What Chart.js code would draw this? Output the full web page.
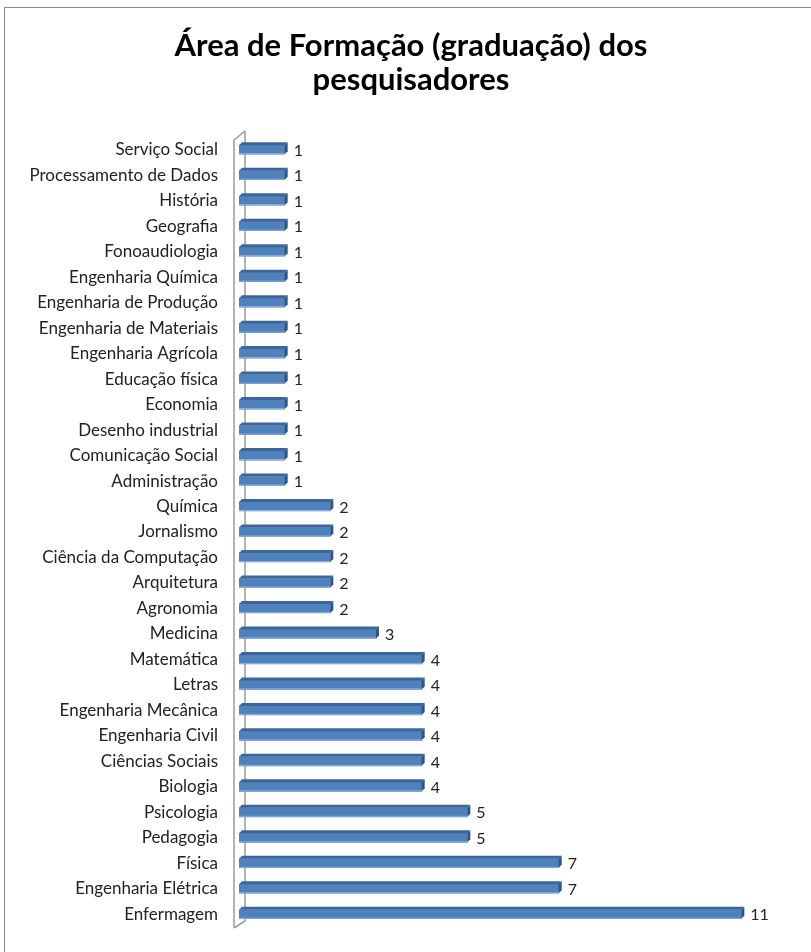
<!DOCTYPE html>
<html><head><meta charset="utf-8">
<script src="https://cdn.jsdelivr.net/npm/chart.js@4/dist/chart.umd.min.js"></script>
<style>
html,body{margin:0;padding:0;background:#fff;overflow:hidden;}
#frame{position:absolute;left:4px;top:7px;width:830px;height:980px;border:1.5px solid #8c8c8c;}
#wrap{position:absolute;left:0;top:0;width:811px;height:952px;}
</style></head>
<body>
<div id="frame"></div>
<div id="wrap"><canvas id="c" width="811" height="952"></canvas></div>
<script>
const titleLines = ["Área de Formação (graduação) dos", "pesquisadores"];
const categories = ["Serviço Social","Processamento de Dados","História","Geografia","Fonoaudiologia","Engenharia Química","Engenharia de Produção","Engenharia de Materiais","Engenharia Agrícola","Educação física","Economia","Desenho industrial","Comunicação Social","Administração","Química","Jornalismo","Ciência da Computação","Arquitetura","Agronomia","Medicina","Matemática","Letras","Engenharia Mecânica","Engenharia Civil","Ciências Sociais","Biologia","Psicologia","Pedagogia","Física","Engenharia Elétrica","Enfermagem"];
const counts = [1,1,1,1,1,1,1,1,1,1,1,1,1,1,2,2,2,2,2,3,4,4,4,4,4,4,5,5,7,7,11];

const FONT = "Lato, 'Open Sans', sans-serif";

const titlePlugin = {
  id:'ttl',
  afterDraw(chart){
    const ctx = chart.ctx;
    ctx.save();
    ctx.fillStyle = '#000';
    ctx.font = 'bold 31px ' + FONT;
    ctx.textAlign = 'center';
    ctx.textBaseline = 'middle';
    ctx.fillText(titleLines[0], 411, 46);
    ctx.fillText(titleLines[1], 411, 80);
    ctx.restore();
  }
};

const wallPlugin = {
  id:'wall',
  beforeDatasetsDraw(chart){
    const ctx = chart.ctx, a = chart.chartArea;
    const x0 = a.left - 5, x1 = a.left + 6;
    const topF = a.top + 3, botF = a.bottom + 1;
    const dy = 9;
    ctx.save();
    ctx.strokeStyle = '#9a9a9a';
    ctx.lineWidth = 1.5;
    ctx.beginPath();
    ctx.moveTo(x0, botF);
    ctx.lineTo(x0, topF);
    ctx.lineTo(x1, topF - dy);
    ctx.moveTo(x1, topF - dy);
    ctx.lineTo(x1, botF - dy + 2);
    ctx.lineTo(x0, botF);
    ctx.stroke();
    ctx.restore();
  }
};

const bar3dPlugin = {
  id:'bar3d',
  afterDatasetsDraw(chart){
    const ctx = chart.ctx;
    const meta = chart.getDatasetMeta(0);
    ctx.save();
    meta.data.forEach((el, i) => {
      const p = el.getProps(['x','y','base','height'], true);
      const h = p.height;
      const top = p.y - h/2, bot = p.y + h/2;
      const d = 3;
      ctx.fillStyle = '#3d6698';
      ctx.beginPath();
      ctx.moveTo(p.base, top);
      ctx.lineTo(p.base + d, top - d);
      ctx.lineTo(p.x + d, top - d);
      ctx.lineTo(p.x, top);
      ctx.closePath();
      ctx.fill();
      ctx.fillStyle = '#2f5482';
      ctx.beginPath();
      ctx.moveTo(p.x, top);
      ctx.lineTo(p.x + d, top - d);
      ctx.lineTo(p.x + d, bot - d);
      ctx.lineTo(p.x, bot);
      ctx.closePath();
      ctx.fill();
      ctx.fillStyle = '#8fb0d8';
      ctx.fillRect(p.base, bot - 1, p.x - p.base, 1);
      ctx.fillStyle = '#222';
      ctx.font = '16px ' + FONT;
      ctx.textAlign = 'left';
      ctx.textBaseline = 'middle';
      ctx.fillText(String(counts[i]), p.x + 9, p.y + 1);
    });
    ctx.restore();
  }
};

new Chart(document.getElementById('c'), {
  type:'bar',
  data:{
    labels: categories,
    datasets:[{
      data: counts,
      backgroundColor:'#4f81bd',
      borderWidth:0,
      barThickness:9,
      borderSkipped:false
    }]
  },
  options:{
    indexAxis:'y',
    responsive:false,
    animation:false,
    devicePixelRatio:1,
    layout:{padding:{top:137,bottom:25,left:0,right:24}},
    plugins:{
      legend:{display:false},
      tooltip:{enabled:false},
      title:{display:false}
    },
    scales:{
      x:{display:false, min:0, max:12},
      y:{
        afterFit(s){ s.width = 239; },
        grid:{display:false, drawTicks:true, tickLength:21, tickColor:'rgba(0,0,0,0)'},
        border:{display:false},
        ticks:{color:'#222', font:{family:FONT, size:17}, padding:0, autoSkip:false}
      }
    }
  },
  plugins:[wallPlugin, bar3dPlugin, titlePlugin]
});
</script>
</body></html>
